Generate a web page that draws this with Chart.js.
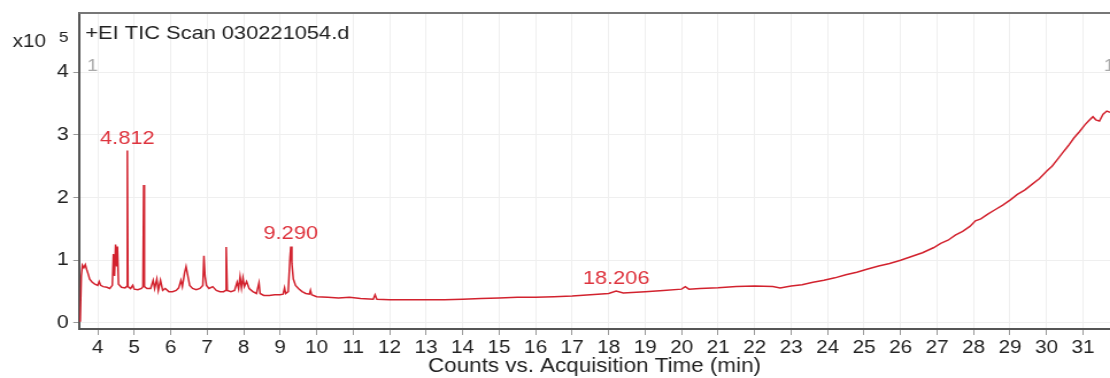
<!DOCTYPE html>
<html>
<head>
<meta charset="utf-8">
<script src="https://cdn.jsdelivr.net/npm/chart.js@4.4.0/dist/chart.umd.min.js"></script>
<style>
  html, body { margin: 0; padding: 0; background: #fff; overflow: hidden; }
  /* the reference picture is stretched a little horizontally */
  #wrap { width: 966px; height: 378px; transform: scaleX(1.1491); transform-origin: 0 0; }
</style>
</head>
<body>
<div id="wrap"><canvas id="tic" width="966" height="378"></canvas></div>
<script>
// acquisition time (min) and counts (x10^5)
const times = [
  3.52, 3.55, 3.58, 3.62, 3.66, 3.70, 3.74, 3.78, 3.85, 3.92,
  4.00, 4.04, 4.08, 4.15, 4.25, 4.33, 4.40, 4.43, 4.46, 4.49,
  4.52, 4.54, 4.57, 4.65, 4.75, 4.79, 4.812, 4.83, 4.90, 4.96,
  5.00, 5.10, 5.20, 5.24, 5.26, 5.28, 5.35, 5.45, 5.52, 5.56,
  5.62, 5.66, 5.72, 5.78, 5.85, 5.95, 6.05, 6.15, 6.22, 6.28,
  6.32, 6.38, 6.42, 6.46, 6.52, 6.60, 6.70, 6.80, 6.88, 6.91,
  6.94, 6.98, 7.05, 7.15, 7.25, 7.35, 7.45, 7.50, 7.52, 7.55,
  7.65, 7.75, 7.82, 7.86, 7.90, 7.94, 7.98, 8.02, 8.08, 8.15,
  8.25, 8.35, 8.42, 8.45, 8.55, 8.70, 8.85, 9.00, 9.08, 9.12,
  9.15, 9.22, 9.27, 9.29, 9.32, 9.36, 9.42, 9.50, 9.60, 9.70,
  9.80, 9.83, 9.86, 10.0, 10.3, 10.6, 10.9, 11.2, 11.55, 11.6,
  11.65, 12.0, 12.5, 13.0, 13.5, 14.0, 14.5, 15.0, 15.5, 16.0,
  16.5, 17.0, 17.5, 18.0, 18.206, 18.4, 19.0, 19.5, 20.0, 20.1,
  20.2, 20.5, 21.0, 21.5, 22.0, 22.5, 22.7, 23.0, 23.3, 23.6,
  23.9, 24.2, 24.5, 24.8, 25.1, 25.4, 25.7, 26.0, 26.3, 26.6,
  26.9, 27.1, 27.3, 27.5, 27.7, 27.9, 28.05, 28.2, 28.4, 28.6,
  28.8, 29.0, 29.2, 29.4, 29.6, 29.8, 30.0, 30.15, 30.3, 30.45,
  30.6, 30.75, 30.9, 31.05, 31.15, 31.27, 31.35, 31.45, 31.55, 31.65,
  31.74
];
const counts = [
  0.02, 0.75, 0.92, 0.88, 0.93, 0.85, 0.78, 0.70, 0.65, 0.62,
  0.60, 0.66, 0.60, 0.58, 0.57, 0.55, 0.60, 1.10, 0.75, 1.25,
  0.90, 1.22, 0.62, 0.57, 0.56, 0.58, 2.75, 0.58, 0.55, 0.60,
  0.54, 0.53, 0.55, 0.58, 2.20, 0.58, 0.55, 0.55, 0.68, 0.55,
  0.70, 0.52, 0.68, 0.52, 0.55, 0.50, 0.50, 0.52, 0.56, 0.68,
  0.58, 0.80, 0.90, 0.78, 0.60, 0.55, 0.53, 0.55, 0.60, 1.07,
  0.75, 0.60, 0.55, 0.58, 0.52, 0.50, 0.50, 0.52, 1.21, 0.52,
  0.50, 0.52, 0.65, 0.55, 0.74, 0.56, 0.72, 0.58, 0.66, 0.55,
  0.50, 0.47, 0.64, 0.47, 0.44, 0.44, 0.45, 0.45, 0.46, 0.56,
  0.47, 0.50, 1.05, 1.22, 0.95, 0.70, 0.60, 0.55, 0.50, 0.47,
  0.46, 0.52, 0.45, 0.42, 0.41, 0.40, 0.41, 0.39, 0.38, 0.45,
  0.38, 0.37, 0.37, 0.37, 0.37, 0.38, 0.39, 0.40, 0.41, 0.41,
  0.42, 0.43, 0.45, 0.47, 0.51, 0.48, 0.50, 0.52, 0.54, 0.58,
  0.54, 0.55, 0.56, 0.58, 0.59, 0.58, 0.56, 0.59, 0.61, 0.65,
  0.68, 0.72, 0.77, 0.81, 0.86, 0.91, 0.95, 1.00, 1.06, 1.12,
  1.20, 1.27, 1.32, 1.40, 1.46, 1.54, 1.63, 1.66, 1.74, 1.81,
  1.88, 1.96, 2.05, 2.12, 2.21, 2.30, 2.42, 2.50, 2.61, 2.72,
  2.83, 2.95, 3.05, 3.16, 3.22, 3.29, 3.24, 3.22, 3.33, 3.38,
  3.36
];

const xTicks = [4, 5, 6, 7, 8, 9, 10, 11, 12, 13, 14, 15, 16, 17, 18, 19, 20, 21, 22, 23, 24, 25, 26, 27, 28, 29, 30, 31];
const yTicks = [0, 1, 2, 3, 4];

const peakTimes = [4.812, 9.290, 18.206];
const peakHeights = [2.75, 1.22, 0.51];
const peakLabels = ['4.812', '9.290', '18.206'];

const FONT = '"Liberation Sans", Arial, sans-serif';

const overlay = {
  id: 'overlay',
  afterDraw(chart) {
    const { ctx, chartArea: a, scales: { x, y } } = chart;
    ctx.save();
    // top frame line
    ctx.strokeStyle = '#777';
    ctx.lineWidth = 2;
    ctx.beginPath();
    ctx.moveTo(a.left, a.top);
    ctx.lineTo(a.right, a.top);
    ctx.stroke();

    // peak retention time labels
    ctx.fillStyle = 'rgb(222,52,62)';
    ctx.font = '19px ' + FONT;
    ctx.textAlign = 'center';
    ctx.textBaseline = 'alphabetic';
    peakTimes.forEach((t, i) => {
      ctx.fillText(peakLabels[i], x.getPixelForValue(t), y.getPixelForValue(peakHeights[i]) - 7);
    });

    // exponent and trace name
    ctx.textAlign = 'left';
    ctx.fillStyle = '#222';
    ctx.font = '18px ' + FONT;
    ctx.fillText('x10', 11, 47);
    ctx.font = '15px ' + FONT;
    ctx.fillText('5', 51.3, 42);
    ctx.font = '19px ' + FONT;
    ctx.fillText('+EI TIC Scan 030221054.d', a.left + 5.5, 38.5);

    // scan markers
    ctx.fillStyle = '#aaa';
    ctx.font = '17px ' + FONT;
    ctx.fillText('1', a.left + 7, 71);
    ctx.fillText('1', a.right - 5.5, 71);
    ctx.restore();
  }
};

new Chart(document.getElementById('tic'), {
  type: 'line',
  data: {
    datasets: [{
      label: 'TIC',
      data: times.map((t, i) => ({ x: t, y: counts[i] })),
      borderColor: 'rgb(210,34,46)',
      borderWidth: 1.5,
      pointRadius: 0,
      tension: 0
    }]
  },
  options: {
    responsive: false,
    animation: false,
    events: [],
    layout: { padding: { top: 13, left: 0, right: 0, bottom: 0 } },
    plugins: { legend: { display: false }, tooltip: { enabled: false } },
    scales: {
      x: {
        type: 'linear',
        min: 3.4875,
        max: 31.74,
        afterBuildTicks: s => { s.ticks = xTicks.map(v => ({ value: v })); },
        afterFit: s => { s.height = 49; s.paddingLeft = 0; s.paddingRight = 0; },
        grid: { color: '#efefef', tickColor: '#999', tickLength: 6, lineWidth: 1 },
        border: { display: true, color: '#555', width: 2 },
        ticks: { color: '#222', font: { family: FONT, size: 18 }, padding: 2, maxRotation: 0, autoSkip: false },
        title: {
          display: true,
          text: 'Counts vs. Acquisition Time (min)',
          color: '#222',
          font: { family: FONT, size: 19.5, lineHeight: 1.2 },
          padding: { top: 0, bottom: 0 }
        }
      },
      y: {
        min: -0.096,
        max: 4.944,
        afterBuildTicks: s => { s.ticks = yTicks.map(v => ({ value: v })); },
        afterFit: s => { s.width = 68.75; s.paddingTop = 0; s.paddingBottom = 0; },
        grid: { color: '#efefef', tickColor: '#999', tickLength: 5, lineWidth: 1 },
        border: { display: true, color: '#555', width: 2 },
        ticks: { color: '#222', font: { family: FONT, size: 18.5 }, padding: 4 }
      }
    }
  },
  plugins: [overlay]
});
</script>
</body>
</html>
